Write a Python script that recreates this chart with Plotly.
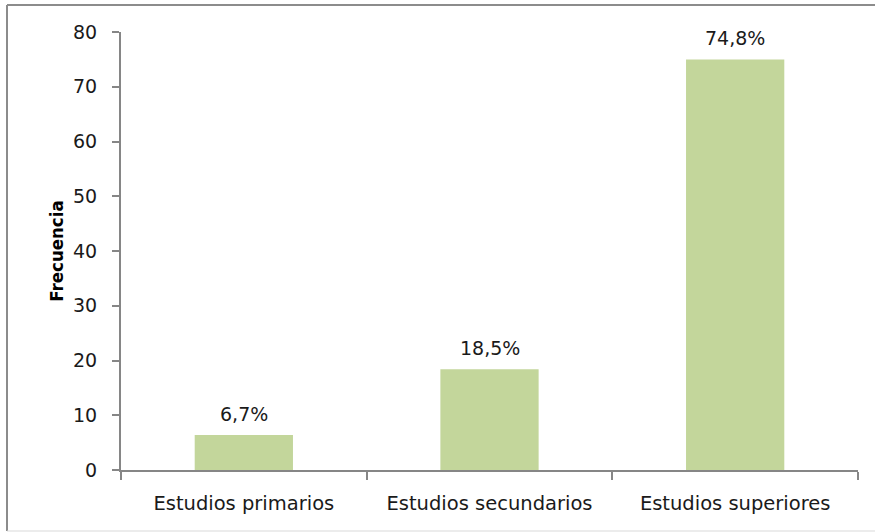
import plotly.graph_objects as go

categories = ["Estudios primarios", "Estudios secundarios", "Estudios superiores"]
frecuencia = [6.4, 18.4, 75.0]
porcentajes = ["6,7%", "18,5%", "74,8%"]
y_ticks = [0, 10, 20, 30, 40, 50, 60, 70, 80]

bar_color = "#C3D69B"
axis_color = "#868686"
font_family = "DejaVu Sans"

fig = go.Figure()
fig.add_trace(go.Bar(
    x=categories, y=frecuencia,
    marker=dict(color=bar_color, line=dict(width=0)),
    width=0.4,
    hoverinfo="skip",
))

for c, v, t in zip(categories, frecuencia, porcentajes):
    fig.add_annotation(x=c, y=v, text=t, showarrow=False, yanchor="bottom",
                       yshift=8, font=dict(family=font_family, size=19, color="#1a1a1a"))

W, H = 737.0, 438.0
fig.update_layout(
    width=875, height=532,
    margin=dict(l=121, r=17, t=32, b=62),
    paper_bgcolor="white", plot_bgcolor="white",
    showlegend=False,
    font=dict(family=font_family, size=18, color="#1a1a1a"),
    xaxis=dict(
        type="category",
        showline=True, linecolor=axis_color, linewidth=2,
        ticks="outside", tickson="boundaries", ticklen=8, tickcolor=axis_color, tickwidth=1.5,
        showgrid=False, zeroline=False,
        tickfont=dict(family=font_family, size=19.5, color="#1a1a1a"),
        ticklabelstandoff=15,
    ),
    yaxis=dict(
        range=[0, 80], tickvals=y_ticks,
        showline=True, linecolor=axis_color, linewidth=2,
        ticks="outside", ticklen=7, tickcolor=axis_color, tickwidth=1.5,
        showgrid=False, zeroline=False,
        tickfont=dict(family=font_family, size=19, color="#1a1a1a"),
        ticklabelstandoff=11,
        title=dict(text="<b>Frecuencia</b>", font=dict(family="DejaVu Sans Condensed", size=18.5, color="#000000"), standoff=5),
    ),
    shapes=[
        dict(type="line", xref="paper", yref="paper",
             x0=-114/W, x1=1 + 30/W, y0=1 + 27/H, y1=1 + 27/H,
             line=dict(color="#8c8c8c", width=2)),
        dict(type="line", xref="paper", yref="paper",
             x0=-114/W, x1=-114/W, y0=1 + 27/H, y1=-61/H,
             line=dict(color="#8c8c8c", width=2)),
        dict(type="line", xref="paper", yref="paper",
             x0=-114/W, x1=1 + 30/W, y0=-61/H, y1=-61/H,
             line=dict(color="#d9d9d9", width=1)),
    ],
)

fig.write_html("out.html")
